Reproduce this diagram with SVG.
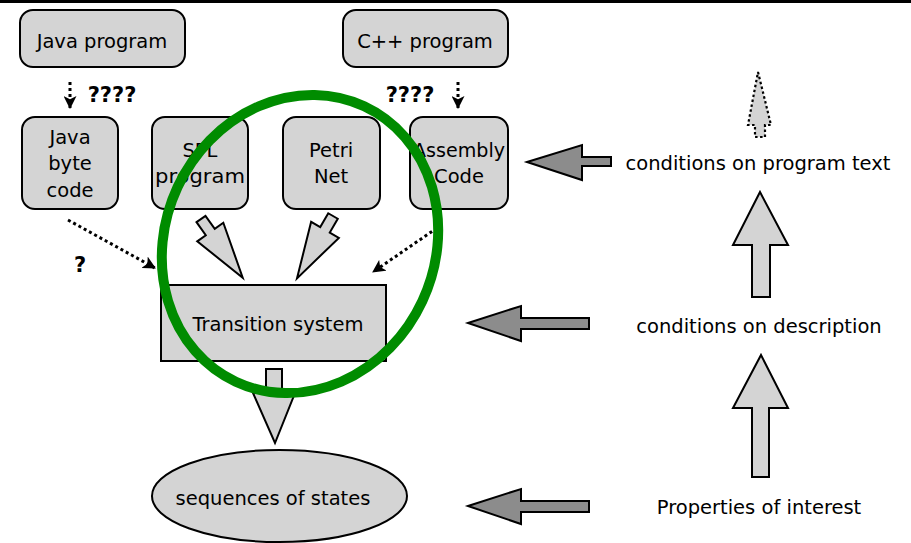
<svg xmlns="http://www.w3.org/2000/svg" width="911" height="543" viewBox="0 0 911 543">
  <defs>
    <style>
      text { font-family: "DejaVu Sans", "Noto Sans", sans-serif; font-size: 19.5px; fill: #000; text-anchor: middle; }
      .box { fill: #d4d4d4; stroke: #000; stroke-width: 2; }
      .block { fill: #d4d4d4; stroke: #000; stroke-width: 2; stroke-linejoin: miter; }
      .dark { fill: #8c8c8c; stroke: #000; stroke-width: 2; }
      .dotted { fill: none; stroke: #000; stroke-width: 3; stroke-dasharray: 3 3; }
      .q { font-weight: bold; font-size: 21px; }
    </style>
    <marker id="head" viewBox="0 0 12 12" refX="11" refY="6" markerWidth="13" markerHeight="13" markerUnits="userSpaceOnUse" orient="auto">
      <path d="M0,0 L12,6 L0,12 L3,6 Z" fill="#000"/>
    </marker>
    <!-- block arrow pointing along +y, tail at origin -->
    <polygon id="blk" points="-5.5,0 5.5,0 5.5,16 16,16 0,72 -16,16 -5.5,16"/>
  </defs>

  <rect x="0" y="0" width="911" height="3" fill="#000"/>

  <g id="java-program">
    <rect class="box" x="20" y="10" width="165" height="57" rx="13"/>
    <text x="102" y="48">Java program</text>
  </g>
  <g id="cpp-program">
    <rect class="box" x="343" y="10" width="165" height="57" rx="13"/>
    <text x="425" y="48">C++ program</text>
  </g>
  <g id="java-byte-code">
    <rect class="box" x="22" y="117" width="96" height="92" rx="13"/>
    <text x="70" y="144">Java</text>
    <text x="70" y="170">byte</text>
    <text x="70" y="197">code</text>
  </g>
  <g id="spl-program">
    <rect class="box" x="152" y="117" width="96" height="92" rx="13"/>
    <text x="200" y="157">SPL</text>
    <text x="200" y="183" textLength="90" lengthAdjust="spacingAndGlyphs">program</text>
  </g>
  <g id="petri-net">
    <rect class="box" x="283" y="117" width="97" height="92" rx="13"/>
    <text x="331" y="157">Petri</text>
    <text x="331" y="183">Net</text>
  </g>
  <g id="assembly-code">
    <rect class="box" x="410" y="117" width="98" height="92" rx="13"/>
    <text x="459" y="157" textLength="92" lengthAdjust="spacingAndGlyphs">Assembly</text>
    <text x="459" y="183">Code</text>
  </g>
  <g id="transition-system">
    <rect class="box" x="161" y="285" width="225" height="76"/>
    <text x="278" y="331">Transition system</text>
  </g>
  <g id="sequences-of-states">
    <ellipse class="box" cx="279.5" cy="496" rx="127.5" ry="46"/>
    <text x="273" y="505">sequences of states</text>
  </g>
  <g id="conditions-program-text">
    <text x="758" y="170">conditions on program text</text>
  </g>
  <g id="conditions-description">
    <text x="759" y="333">conditions on description</text>
  </g>
  <g id="properties-of-interest">
    <text x="759" y="514">Properties of interest</text>
  </g>

  <g id="connectors">
    <!-- dotted translation arrows -->
    <line class="dotted" x1="70" y1="82" x2="70" y2="108" marker-end="url(#head)"/>
    <text class="q" x="112" y="102">????</text>
    <line class="dotted" x1="458" y1="82" x2="458" y2="108" marker-end="url(#head)"/>
    <text class="q" x="410" y="102">????</text>
    <line class="dotted" x1="68" y1="220" x2="155" y2="268" marker-end="url(#head)"/>
    <text class="q" x="80" y="272">?</text>
    <line class="dotted" x1="437" y1="228" x2="373" y2="272" marker-end="url(#head)"/>

    <!-- block arrows into the transition system -->
    <use href="#blk" class="block" transform="translate(201,219) rotate(-35.4)"/>
    <use href="#blk" class="block" transform="translate(333,216) rotate(30)"/>

    <!-- transition system to sequences -->
    <polygon class="block" points="266,369 282,369 282,393 295,393 275,443 253,393 266,393"/>

    <!-- right column: upward arrows -->
    <polygon class="block" style="stroke-dasharray:2.5 2.5; stroke-width:2.2" points="758,72 771,125 765,125 765,137 755,137 755,125 748,125"/>
    <polygon class="block" points="760,192 788,245 770,245 770,297 752,297 752,245 733,245"/>
    <polygon class="block" points="761,355 788,408 769,408 769,477 752,477 752,408 733,408"/>

    <!-- left-pointing dark arrows -->
    <polygon class="dark" points="527,162 582,145 582,157 611,157 611,166 582,166 582,180"/>
    <polygon class="dark" points="468,323 521,306 521,318 589,318 589,329 521,329 521,341"/>
    <polygon class="dark" points="468,506 521,489 521,501 589,501 589,512 521,512 521,524"/>
  </g>

  <!-- green highlight ring -->
  <ellipse cx="300" cy="244" rx="135" ry="152" transform="rotate(25 300 244)" fill="none" stroke="#008c00" stroke-width="10"/>
</svg>
